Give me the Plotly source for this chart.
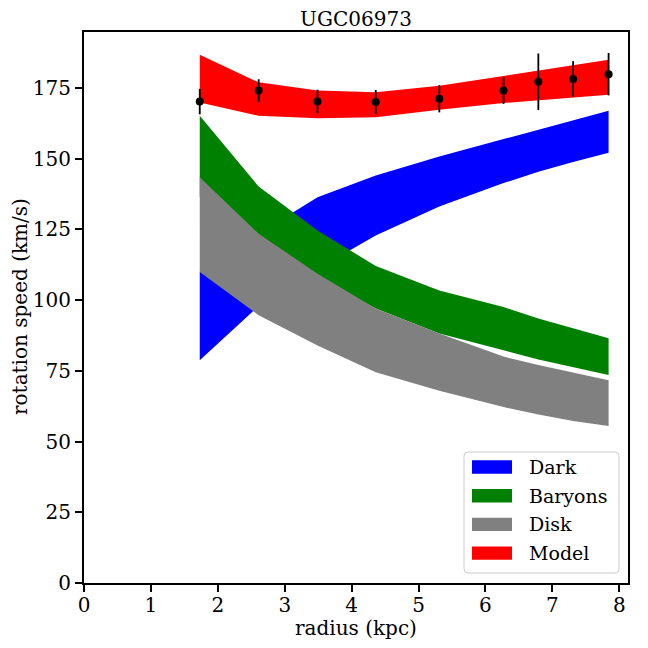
import plotly.graph_objects as go

# radii of the rotation curve points (kpc)
radius = [1.73, 2.61, 3.49, 4.36, 5.31, 6.27, 6.79, 7.31, 7.84]
v_obs = [170.1, 174.0, 170.1, 170.0, 171.1, 174.0, 177.1, 178.1, 179.8]
v_err = [4.5, 4.0, 4.2, 4.2, 4.8, 4.7, 10.0, 6.3, 7.5]

# model bands (lower / upper) in km/s
dark_lo = [78.7, 97.9, 111.0, 122.8, 133.0, 141.3, 145.3, 148.8, 152.0]
dark_hi = [110.0, 123.4, 136.3, 144.0, 150.7, 156.9, 160.2, 163.6, 166.9]
bary_lo = [136.5, 120.0, 108.0, 97.0, 88.2, 82.2, 79.0, 76.2, 73.5]
bary_hi = [165.1, 140.1, 124.6, 112.0, 103.4, 97.5, 93.5, 90.0, 86.5]
disk_lo = [109.9, 94.6, 83.9, 74.5, 67.9, 62.2, 59.5, 57.2, 55.5]
disk_hi = [143.4, 123.4, 109.3, 97.0, 88.2, 80.0, 77.0, 74.2, 71.6]
model_lo = [169.8, 165.1, 164.2, 164.6, 167.2, 169.6, 170.6, 171.5, 172.5]
model_hi = [186.7, 176.9, 174.0, 173.4, 175.7, 179.2, 181.2, 183.0, 184.9]

names = ["Dark", "Baryons", "Disk", "Model"]
colors = ["#0000ff", "#008000", "#808080", "#ff0000"]
lows = [dark_lo, bary_lo, disk_lo, model_lo]
highs = [dark_hi, bary_hi, disk_hi, model_hi]

font = "DejaVu Serif"
W = H = 648
L, R, T, B = 84, 20, 32, 65

fig = go.Figure()
for name, lo, hi, col in zip(names, lows, highs, colors):
    fig.add_trace(go.Scatter(
        x=radius + radius[::-1], y=hi + lo[::-1],
        fill="toself", fillcolor=col, mode="lines",
        line=dict(width=0, color=col), name=name,
        showlegend=False, hoverinfo="skip"))

fig.add_trace(go.Scatter(
    x=radius, y=v_obs, mode="markers", showlegend=False,
    marker=dict(color="black", size=8),
    error_y=dict(type="data", array=v_err, color="black", thickness=1.8, width=0)))


# pixel -> paper coords, for the hand drawn legend and axis titles
def px(x):
    return (x - L) / (W - L - R)


def py(y):
    return (H - B - y) / (H - T - B)


serif = dict(family=font, size=20, color="black")

bx0, bx1, by0, by1, rad = 464, 619, 452, 573, 4
path = (f"M{px(bx0 + rad)},{py(by0)} L{px(bx1 - rad)},{py(by0)} "
        f"Q{px(bx1)},{py(by0)} {px(bx1)},{py(by0 + rad)} "
        f"L{px(bx1)},{py(by1 - rad)} Q{px(bx1)},{py(by1)} {px(bx1 - rad)},{py(by1)} "
        f"L{px(bx0 + rad)},{py(by1)} Q{px(bx0)},{py(by1)} {px(bx0)},{py(by1 - rad)} "
        f"L{px(bx0)},{py(by0 + rad)} Q{px(bx0)},{py(by0)} {px(bx0 + rad)},{py(by0)} Z")
shapes = [dict(type="path", xref="paper", yref="paper", path=path,
               fillcolor="rgba(255,255,255,0.8)", line=dict(color="#cccccc", width=1))]
annotations = [
    dict(xref="paper", yref="paper", x=0.5, y=py(628), text="radius (kpc)",
         showarrow=False, xanchor="center", yanchor="middle", font=serif),
    dict(xref="paper", yref="paper", x=px(20), y=py(307), text="rotation speed (km/s)",
         showarrow=False, xanchor="center", yanchor="middle", textangle=-90, font=serif),
]
for i, (name, col) in enumerate(zip(names, colors)):
    yc = 467 + i * 28.7
    shapes.append(dict(type="rect", xref="paper", yref="paper",
                       x0=px(472), x1=px(512), y0=py(yc - 6.7), y1=py(yc + 6.7),
                       fillcolor=col, line=dict(width=0)))
    annotations.append(dict(xref="paper", yref="paper", x=px(527), y=py(yc),
                            xanchor="left", yanchor="middle", showarrow=False,
                            text=name, font=dict(family=font, size=19, color="black")))

axis = dict(showline=True, linecolor="black", linewidth=2, mirror=True,
            ticks="outside", ticklen=7, tickwidth=2, tickcolor="black",
            showgrid=False, zeroline=False, automargin=False,
            tickfont=serif)

fig.update_layout(
    width=W, height=H,
    margin=dict(l=L, r=R, t=T, b=B),
    plot_bgcolor="white", paper_bgcolor="white",
    font=serif,
    title=dict(text="UGC06973", x=0.5, xanchor="center", y=(H - 19) / H, yanchor="middle",
               xref="paper", font=serif),
    xaxis=dict(axis, range=[0, 8.13], dtick=1, ticklabelstandoff=-4),
    yaxis=dict(axis, range=[0, 194.7], dtick=25),
    shapes=shapes,
    annotations=annotations,
)

fig.write_html("out.html", config={"displayModeBar": False},
               post_script="document.body.style.margin='0';document.body.style.overflow='hidden';")
